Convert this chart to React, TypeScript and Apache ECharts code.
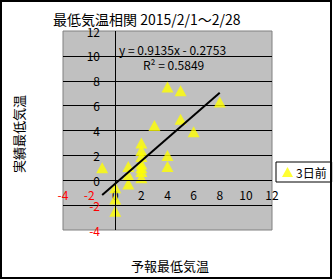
import React, { useEffect, useRef } from "react";
import * as echarts from "echarts";

const titleText = "最低気温相関 2015/2/1～2/28";
const xTitle = "予報最低気温";
const yTitle = "実績最低気温";
const seriesName = "3日前";
const forecastX = [-1, 0, 0, 0, 1, 1, 1, 2, 2, 2, 2, 2, 2, 2, 3, 4, 4, 4, 5, 5, 6, 8];
const actualY = [1.0, -0.6, -1.5, -2.5, 1.1, 0.4, -0.3, 3.0, 2.4, 1.9, 1.3, 1.0, 0.7, 0.2, 4.4, 7.5, 2.0, 1.1, 7.2, 4.9, 3.9, 6.3];
const slope = 0.9135;
const intercept = -0.2753;
const rSquared = 0.5849;
const axisMin = -4;
const axisMax = 12;
const axisStep = 2;
const zeroValue = 0;

const FONT = "'Noto Sans CJK JP', 'Noto Sans', sans-serif";

export default function App() {
  const ref = useRef<HTMLDivElement>(null);
  useEffect(() => {
    document.body.style.margin = "0";
    if (!ref.current) return;
    const chart = echarts.init(ref.current, undefined, { renderer: "svg" });
    const points = forecastX.map((x, i) => [x, actualY[i]]);
    const xMin = Math.min(...forecastX);
    const xMax = Math.max(...forecastX);
    const trend = [
      [xMin, slope * xMin + intercept],
      [xMax, slope * xMax + intercept],
    ];
    const labelFmt = (v: number) => (v < 0 ? `{neg|${v}}` : `{pos|${v}}`);
    const rich = {
      neg: { color: "#ff0000", fontSize: 12, fontFamily: FONT },
      pos: { color: "#000000", fontSize: 12, fontFamily: FONT },
    };
    chart.setOption({
      animation: false,
      backgroundColor: "#ffffff",
      title: {
        text: titleText,
        left: 53,
        top: 12,
        padding: 0,
        textStyle: { fontSize: 14, fontWeight: "normal", color: "#000", fontFamily: FONT },
      },
      legend: {
        data: [seriesName],
        left: 276,
        top: 162,
        orient: "vertical",
        backgroundColor: "#ffffff",
        borderColor: "#000000",
        borderWidth: 1,
        borderRadius: 0,
        padding: [4, 5, 4, 6],
        itemWidth: 11,
        itemHeight: 10,
        itemGap: 4,
        textStyle: { fontSize: 12, color: "#000", fontFamily: FONT, padding: [0, 0, 0, -2] },
      },
      grid: {
        left: 63,
        top: 31,
        width: 209,
        height: 199,
        show: true,
        containLabel: false,
        outerBoundsMode: "none",
        backgroundColor: "#c0c0c0",
        borderColor: "#808080",
        borderWidth: 1,
      },
      xAxis: {
        type: "value",
        position: "bottom",
        min: axisMin,
        max: axisMax,
        interval: axisStep,
        axisLine: { show: false, onZero: false },
        axisTick: { show: false },
        axisLabel: { formatter: labelFmt, rich, margin: -42, showMinLabel: true, showMaxLabel: true },
        splitLine: { show: false },
      },
      yAxis: {
        type: "value",
        position: "left",
        min: axisMin,
        max: axisMax,
        interval: axisStep,
        axisLine: { show: false, onZero: false },
        axisTick: { show: false },
        axisLabel: { formatter: labelFmt, rich, margin: -37, showMinLabel: true, showMaxLabel: true },
        splitLine: { show: true, showMinLine: false, showMaxLine: false, lineStyle: { color: "#000", width: 1 } },
      },
      series: [
        {
          name: "axes",
          type: "line",
          data: [],
          silent: true,
          z: 2,
          markLine: {
            silent: true,
            symbol: ["none", "none"],
            label: { show: false },
            lineStyle: { color: "#000", width: 1, type: "solid" },
            data: [{ xAxis: zeroValue }, { yAxis: zeroValue }],
          },
        },
        {
          name: seriesName,
          type: "scatter",
          data: points,
          symbol: "triangle",
          symbolSize: [12, 11],
          itemStyle: { color: "#ffff00" },
          z: 3,
        },
        {
          name: "trend",
          type: "line",
          data: trend,
          symbol: "none",
          silent: true,
          lineStyle: { color: "#000", width: 2 },
          z: 4,
        },
      ],
      graphic: [
        {
          type: "text",
          x: 119,
          y: 49,
          silent: true,
          style: {
            text: `y = ${slope}x - ${Math.abs(intercept)}`,
            fill: "#000",
            font: `12px ${FONT}`,
            textAlign: "left",
            textVerticalAlign: "middle",
          },
        },
        {
          type: "text",
          x: 143,
          y: 64,
          silent: true,
          style: {
            text: `R² = ${rSquared}`,
            fill: "#000",
            font: `12px ${FONT}`,
            textAlign: "left",
            textVerticalAlign: "middle",
          },
        },
        {
          type: "text",
          x: 170,
          y: 265,
          silent: true,
          style: {
            text: xTitle,
            fill: "#000",
            font: `13px ${FONT}`,
            textAlign: "center",
            textVerticalAlign: "middle",
          },
        },
        {
          type: "text",
          x: 18,
          y: 134,
          rotation: Math.PI / 2,
          silent: true,
          style: {
            text: yTitle,
            fill: "#000",
            font: `13px ${FONT}`,
            textAlign: "center",
            textVerticalAlign: "middle",
          },
        },
        {
          type: "rect",
          x: 0,
          y: 0,
          silent: true,
          z: 100,
          shape: { x: 1, y: 1, width: 330, height: 277 },
          style: { fill: "none", stroke: "#000", lineWidth: 2 },
        },
      ],
    });
    return () => chart.dispose();
  }, []);
  return <div ref={ref} style={{ position: "absolute", left: 0, top: 0, width: 333, height: 280 }} />;
}
